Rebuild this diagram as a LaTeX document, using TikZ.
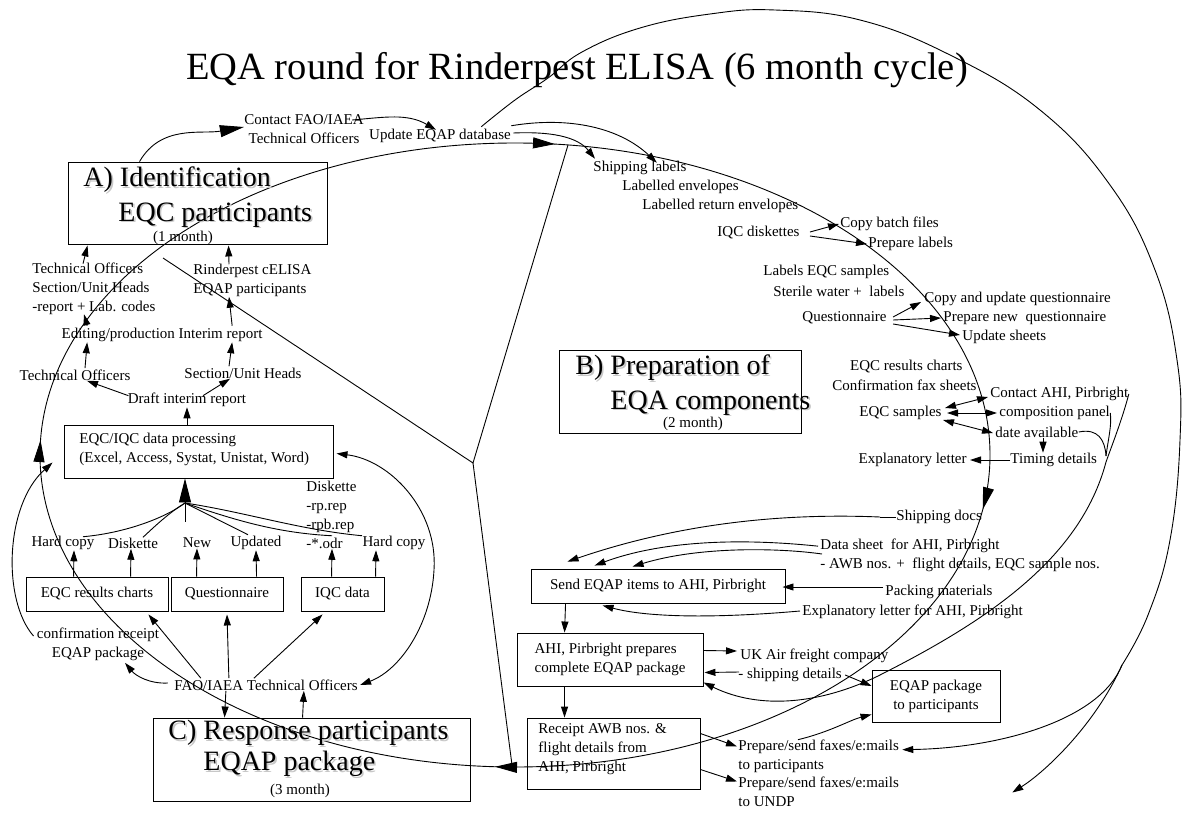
\documentclass[tikz,border=0pt]{standalone}
\usepackage{fontspec}
\setmainfont{Liberation Serif}
\usetikzlibrary{arrows.meta,decorations.markings,calc}
\begin{document}
\begin{tikzpicture}[x=1pt,y=-1pt,line width=0.9pt,
  lbl/.style={font=\fontsize{15}{19}\selectfont, inner sep=0pt, align=left},
  big/.style={font=\fontsize{28}{30}\selectfont, inner sep=0pt},
  bigs/.style={big, text=black!22},
  box/.style={draw, line width=0.9pt, inner sep=0pt, font=\fontsize{15}{19}\selectfont, align=left},
  ar/.style={-{Triangle[length=11pt,width=7pt]}},
  arr2/.style={{Triangle[length=11pt,width=7pt]}-{Triangle[length=11pt,width=7pt]}},
  bar/.style={-{Triangle[length=24pt,width=12pt]}},
  cyc/.style={postaction={decorate}, decoration={markings,
     mark=at position 0.022 with {\arrow{Triangle[length=22pt,width=11pt]}},
     mark=at position 0.258 with {\arrow{Triangle[length=22pt,width=11pt]}},
     mark=at position 0.506 with {\arrow{Triangle[length=22pt,width=11pt]}},
     mark=at position 0.766 with {\arrow{Triangle[length=22pt,width=11pt]}}}}
]
\useasboundingbox (0,0) rectangle (1182,816);

% title
\node[font=\fontsize{38.5}{40}\selectfont, inner sep=0pt] (title) at (577,70) {EQA round for Rinderpest ELISA (6 month cycle)};

% ---------- cycle ellipse and sector lines
\draw[cyc] (515,455) ellipse [x radius=475, y radius=312];
\coordinate (ctr) at (473,463);
\coordinate (vA) at (163,258);
\coordinate (vB) at (568,145);
\coordinate (vC) at (512,765);
\draw (vA) -- (ctr) -- (vB);
\draw (ctr) -- (vC);

% ---------- A box
\node[box, minimum width=259pt, minimum height=82pt] (boxA) at (197.5,203) {};
\node[bigs, anchor=west] (tA1s) at (84.6,181.6) {A) Identification};
\node[big, anchor=west] (tA1) at (83,180) {A) Identification};
\node[bigs, anchor=west] (tA2s) at (119.6,216.6) {EQC participants};
\node[big, anchor=west] (tA2) at (118,215) {EQC participants};
\node[lbl] (tA3) at (183,238) {(1 month)};

\node[lbl, align=center] (cft) at (304,129) {Contact FAO/IAEA\\Technical Officers};
\node[lbl] (upd) at (440,136) {Update EQAP database};
\draw[bar] ($(boxA.north west)+(72,0)$) to[out=60,in=190] ($(cft.west)+(0,-2)$);
\draw[ar] ($(cft.north east)+(-12,6)$) to[out=5,in=150] ($(upd.north)+(-4,1)$);

% left column
\node[lbl, anchor=west] (tTO) at (32,289) {Technical Officers\\Section/Unit Heads\\-report + Lab. codes};
\node[lbl, anchor=west] (tRC) at (193,280) {Rinderpest cELISA\\EQAP participants};
\node[lbl] (tEd) at (162,335) {Editing/production Interim report};
\node[lbl] (tTO2) at (75,375) {Technical Officers};
\node[lbl] (tSU) at (243,373) {Section/Unit Heads};
\node[lbl] (tDr) at (187,400) {Draft interim report};

\draw[ar] ($(tTO.north west)+(51,1)$) -- ($(boxA.south west)+(20,1)$);
\draw[ar] ($(tRC.north west)+(36,1)$) -- ($(boxA.south west)+(161,1)$);
\draw[ar] ($(tEd.north west)+(26,-2)$) -- ($(tTO.south west)+(52,-1)$);
\draw[ar] ($(tEd.north west)+(171,-2)$) -- ($(tRC.south west)+(36,0)$);
\draw[ar] ($(tTO2.north)+(10,-1)$) -- ($(tEd.south west)+(26,0)$);
\draw[ar] ($(tSU.north)+(-14,-1)$) -- ($(tEd.south west)+(171,0)$);
\draw[ar] ($(tDr.north west)+(1,3)$) -- ($(tTO2.south)+(12,0)$);
\draw[ar] ($(tDr.north)+(16,3)$) -- ($(tSU.south)+(-13,0)$);

% data processing
\node[box, minimum width=269pt, minimum height=53pt] (dp) at (198.5,451.5) {};
\node[lbl, anchor=west] (dpt) at (79,449) {EQC/IQC data processing\\(Excel, Access, Systat, Unistat, Word)};
\draw[ar] (dp.north -| tDr) -- (tDr.south);

% labels row
\node[lbl] (hc1) at (63,543) {Hard copy};
\node[lbl] (dk1) at (133,543) {Diskette};
\node[lbl] (new) at (197,543) {New};
\node[lbl] (updd) at (256,543) {Updated};
\node[lbl, anchor=west] (dk2) at (306,514.5) {Diskette\\-rp.rep\\-rpb.rep\\-*.odr};
\node[lbl] (hc2) at (394,543) {Hard copy};

\coordinate (fan) at (185,503);
\draw[bar] (fan) -- (fan |- dp.south);
\draw ($(hc1.north)+(20,1)$) .. controls (125,533) and (165,518) .. (fan);
\draw ($(dk1.north)+(10,0)$) .. controls (155,526) and (170,512) .. (fan);
\draw ($(new.north)+(-12,-16)$) -- (fan);
\draw ($(updd.north)+(-8,-1)$) -- (fan);
\draw ($(dk2.south west)+(26,-13)$) .. controls (280,533) and (240,522) .. (fan);
\draw ($(hc2.north west)+(0,0)$) .. controls (300,530) and (245,512) .. (fan);

% small boxes
\node[box, minimum width=142pt, minimum height=34pt] (bEQC) at (97,594) {EQC results charts};
\node[box, minimum width=112pt, minimum height=34pt] (bQ) at (227,594) {Questionnaire};
\node[box, minimum width=83pt, minimum height=34pt] (bIQC) at (342.5,594) {IQC data};

\draw[ar] ($(bEQC.north west)+(48,0)$) -- ($(hc1.south)+(11,0)$);
\draw[ar] ($(bEQC.north west)+(105,0)$) -- ($(dk1.south)+(-2,0)$);
\draw[ar] ($(bQ.north west)+(26,0)$) -- (new.south);
\draw[ar] ($(bQ.north west)+(86,0)$) -- (updd.south);
\draw[ar] ($(bIQC.north west)+(31,0)$) -- ($(dk2.south west)+(26,0)$);
\draw[ar] ($(bIQC.north west)+(75,0)$) -- ($(hc2.south)+(-18,0)$);

\node[lbl, align=center] (conf) at (98,644) {confirmation receipt\\EQAP package};
\node[lbl] (fao) at (266,685) {FAO/IAEA Technical Officers};

\draw[ar] ($(fao.north west)+(27,-1)$) -- ($(bEQC.south east)+(-20,3)$);
\draw[ar] ($(fao.north west)+(55,-1)$) -- ($(bQ.south)+(0,3)$);
\draw[ar] ($(fao.north west)+(80,-1)$) -- ($(bIQC.south west)+(22,3)$);
\draw[ar] ($(fao.west)+(-6,-2)$) .. controls (150,684) and (136,676) .. ($(conf.south)+(27,2)$);
\draw[arr2] ($(dp.east)+(3,2)$) .. controls (390,460) and (438,510) .. (434,570) .. controls (431,625) and (400,670) .. ($(fao.east)+(2,0)$);
\draw[ar] ($(conf.west)+(-3,-8)$) .. controls (2,600) and (5,505) .. ($(dp.west)+(-11,11)$);

% C box
\node[box, minimum width=317pt, minimum height=83pt] (bC) at (311.5,759.5) {};
\node[bigs, anchor=west] (tC1s) at (169.6,734.6) {C) Response participants};
\node[big, anchor=west] (tC1) at (168,733) {C) Response participants};
\node[bigs, anchor=west] (tC2s) at (204.6,765.6) {EQAP package};
\node[big, anchor=west] (tC2) at (203,764) {EQAP package};
\node[lbl] (tC3) at (300,791) {(3 month)};
\draw[ar] ($(fao.south west)+(52,0)$) -- ($(bC.north west)+(72,0)$);
\draw[ar] ($(bC.north west)+(150,0)$) -- ($(fao.south west)+(130,0)$);

% ---------- B box
\node[box, minimum width=242pt, minimum height=83pt] (boxB) at (680.5,391.5) {};
\node[bigs, anchor=west] (tB1s) at (576.6,369.6) {B) Preparation of};
\node[big, anchor=west] (tB1) at (575,368) {B) Preparation of};
\node[bigs, anchor=west] (tB2s) at (611.6,404.6) {EQA components};
\node[big, anchor=west] (tB2) at (610,403) {EQA components};
\node[lbl] (tB3) at (693,424) {(2 month)};

% ---------- right labels
\node[lbl, anchor=west] (shl) at (593,168) {Shipping labels};
\node[lbl, anchor=west] (lenv) at (622,187) {Labelled envelopes};
\node[lbl, anchor=west] (lrenv) at (642,206) {Labelled return envelopes};
\node[lbl, anchor=west] (iqcd) at (717,233) {IQC diskettes};
\node[lbl, anchor=west] (cbf) at (840,224) {Copy batch files};
\node[lbl, anchor=west] (prl) at (868,244) {Prepare labels};
\node[lbl, anchor=west] (lEQC) at (763,272) {Labels EQC samples};
\node[lbl, anchor=west] (sw) at (773,291) {Sterile water +\ \ labels};
\node[lbl, anchor=west] (qn) at (802,318) {Questionnaire};
\node[lbl, anchor=west] (cuq) at (924,299) {Copy and update questionnaire};
\node[lbl, anchor=west] (pnq) at (943,318) {Prepare new\ \ questionnaire};
\node[lbl, anchor=west] (ups) at (962,337) {Update sheets};
\node[lbl, anchor=east] (erc) at (963,367) {EQC results charts};
\node[lbl, anchor=east] (cfs) at (977,385) {Confirmation fax sheets};
\node[lbl, anchor=west] (cahi) at (990,394) {Contact AHI, Pirbright};
\node[lbl, anchor=west] (cpp) at (999,413) {composition panel};
\node[lbl, anchor=west] (dav) at (995,432) {date available};
\node[lbl, anchor=east] (eqs) at (942,413) {EQC samples};
\node[lbl, anchor=west] (tmd) at (1010,460) {Timing details};
\node[lbl, anchor=east] (exl) at (967,460) {Explanatory letter};

\draw[ar] ($(upd.north east)+(0,-3)$) .. controls (570,116) and (620,128) .. ($(shl.north east)+(-30,2)$);
\draw[ar] ($(upd.east)+(2,-3)$) .. controls (560,131) and (580,140) .. ($(shl.north west)+(2,-2)$);

\draw[ar] ($(iqcd.east)+(10,-1)$) -- ($(cbf.west)+(-1,0)$);
\draw[ar] ($(iqcd.east)+(10,3)$) -- ($(prl.west)+(-1,0)$);
\draw[ar] ($(qn.east)+(6,-1)$) -- ($(cuq.west)+(-3,3)$);
\draw[ar] ($(qn.east)+(6,2)$) -- ($(pnq.west)+(-2,0)$);
\draw[ar] ($(qn.east)+(6,6)$) -- ($(ups.west)+(-2,-2)$);
\draw[arr2] ($(eqs.east)+(3,-5)$) -- ($(cahi.west)+(-2,3)$);
\draw[arr2] ($(eqs.east)+(5,0)$) -- ($(cpp.west)+(-2,0)$);
\draw[arr2] ($(eqs.east)+(1,7)$) -- ($(dav.west)+(-2,1)$);
\draw[ar] ($(dav.south west)+(48,0)$) -- ($(tmd.north west)+(33,0)$);
\draw[ar] (tmd.west) -- ($(exl.east)+(3,0)$);

% ---------- lower right
\node[lbl, anchor=west] (shd) at (896,517) {Shipping docs};
\node[lbl, anchor=west] (dsh) at (820,555) {Data sheet\ \ for AHI, Pirbright\\- AWB nos. +\ \ flight details, EQC sample nos.};
\node[box, minimum width=254pt, minimum height=34pt] (bSend) at (658,586) {Send EQAP items to AHI, Pirbright};
\node[lbl, anchor=west] (pack) at (885,592) {Packing materials};
\node[lbl, anchor=west] (exl2) at (802,612) {Explanatory letter for AHI, Pirbright};
\node[box, minimum width=186pt, minimum height=53pt] (bAHI) at (610,659.5) {AHI, Pirbright prepares\\complete EQAP package};
\node[lbl, anchor=west] (ukair) at (740,656) {UK Air freight company};
\node[lbl, anchor=west] (shpd) at (738,675) {- shipping details};
\node[box, minimum width=128pt, minimum height=52pt, align=center] (bEQAP) at (936,696) {EQAP package\\to participants};
\node[box, minimum width=173pt, minimum height=71pt] (bRec) at (613.5,753.5) {};
\node[lbl, anchor=west] (tRec) at (538,749) {Receipt AWB nos. \&\\flight details from\\AHI, Pirbright};
\node[lbl, anchor=west] (prep1) at (738,756.5) {Prepare/send faxes/e:mails\\to participants};
\node[lbl, anchor=west] (prep2) at (738,791.5) {Prepare/send faxes/e:mails\\to UNDP};

\draw[ar] ($(shd.west)+(-16,0)$) .. controls (760,512) and (660,530) .. ($(bSend.north west)+(37,-7)$);
\draw ($(shd.west)+(-16,0)$) -- (shd.west);
\draw[ar] ($(dsh.north west)+(-2,8)$) .. controls (720,536) and (650,545) .. ($(bSend.north west)+(64,-3)$);
\draw[ar] ($(dsh.west)+(2,-1)$) .. controls (780,548) and (700,546) .. ($(bSend.north west)+(102,-2)$);
\draw[ar] ($(pack.west)+(-2,-5)$) -- ($(bSend.east)+(-3,1)$);
\draw[ar] ($(exl2.west)+(-2,-1)$) .. controls (720,618) and (650,618) .. ($(bSend.south west)+(72,2)$);
\draw[ar] ($(bSend.south west)+(35,0)$) -- ($(bAHI.north west)+(48,0)$);
\draw[ar] ($(bAHI.south west)+(48,0)$) -- ($(bRec.north west)+(38,0)$);
\draw[ar] ($(bAHI.east)+(0,-9)$) -- ($(ukair.west)+(-3,-5)$);
\draw[ar] ($(shpd.west)+(1,-3)$) -- ($(bAHI.east)+(1,13)$);
\draw[ar] ($(shpd.east)+(3,0)$) -- ($(bEQAP.west)+(0,-10)$);
\draw[ar] ($(bRec.east)+(0,-20)$) -- ($(prep1.west)+(-1,-10)$);
\draw[ar] ($(bRec.east)+(0,16)$) -- ($(prep2.west)+(-1,-10)$);
\draw[ar] ($(prep1.north west)+(60,0)$) .. controls (830,732) and (850,720) .. ($(bEQAP.south west)+(0,-8)$);

% right-side long curves
\draw (cpp.east) .. controls (1112,425) and (1108,440) .. (1106,456);
\draw (dav.east) .. controls (1098,428) and (1105,440) .. (1106,456);
\draw[ar] (cahi.east) .. controls (1122,420) and (1112,445) .. (1106,462) .. controls (1080,560) and (985,622) .. (878,676) .. controls (820,704) and (760,710) .. ($(bAHI.south east)+(0,-4)$);

\coordinate (fork) at (1122,665);
\draw plot[smooth, tension=0.7] coordinates {($(upd.north east)+(-30,-2)$) (515,100) (548,78) (582,52) (640,28) (710,14) (775,10) (860,20) (950,55) (1040,110) (1110,185) (1155,270) (1177,360) (1180,440) (1170,540) (1148,615) (fork)};
\draw[ar] (fork) .. controls (1095,725) and (1045,772) .. ($(prep2.east)+(113,1)$);
\draw[ar] (fork) .. controls (1100,720) and (1000,748) .. ($(prep1.north east)+(3,10)$);
\end{tikzpicture}
\end{document}
